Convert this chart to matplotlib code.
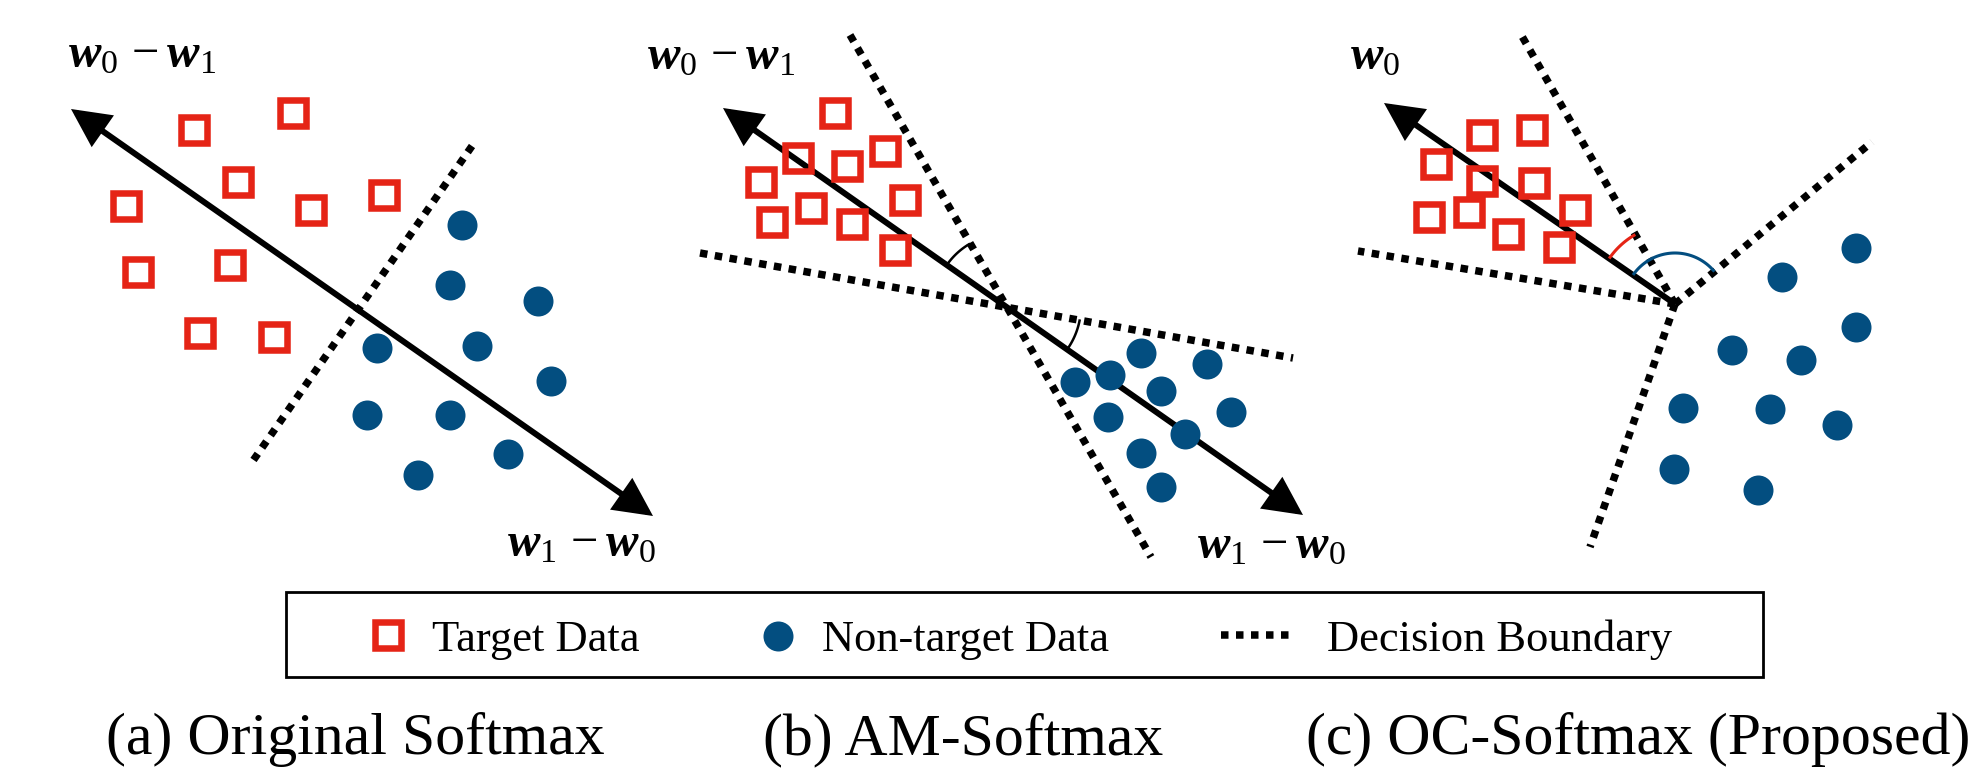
"""
Softmax / AM-Softmax / OC-Softmax 决策边界示意图
"""
import numpy as np
import matplotlib
matplotlib.use("Agg")
import matplotlib.pyplot as plt
from matplotlib.patches import FancyArrowPatch, Rectangle

plt.rcParams["font.family"] = ["Liberation Serif", "DejaVu Serif"]
plt.rcParams["mathtext.fontset"] = "custom"
plt.rcParams["mathtext.rm"] = "Liberation Serif"
plt.rcParams["mathtext.it"] = "Liberation Serif:italic"
plt.rcParams["mathtext.bf"] = "Liberation Serif:italic:bold"

W, H = 1979, 769
RED = "#E52416"
BLUE = "#034E80"

# ---- (a) Original Softmax ----
a_sq_x = [194, 293, 238, 126, 311, 384, 138, 230, 200, 274]
a_sq_y = [130, 113, 182, 206, 210, 195, 272, 265, 333, 337]
a_ci_x = [462, 450, 538, 377, 477, 551, 367, 450, 508, 418]
a_ci_y = [225, 285, 301, 348, 346, 381, 415, 415, 454, 475]
a_arrow = [(71, 109), (653, 516)]
a_bounds = [[(472, 146), (250, 465)]]

# ---- (b) AM-Softmax ----
b_sq_x = [835, 798, 761, 847, 885, 811, 772, 852, 905, 895]
b_sq_y = [113, 158, 182, 166, 151, 208, 222, 224, 200, 250]
b_ci_x = [1141, 1207, 1075, 1110, 1161, 1231, 1108, 1185, 1141, 1161]
b_ci_y = [353, 364, 382, 375, 391, 412, 417, 434, 453, 487]
b_arrow = [(723, 108), (1303, 515)]
b_bounds = [[(850, 35), (1151, 557)], [(700, 253), (1293, 358)]]
b_center = (1006, 306)

# ---- (c) OC-Softmax ----
c_sq_x = [1482, 1532, 1436, 1482, 1534, 1429, 1469, 1508, 1575, 1559]
c_sq_y = [135, 130, 164, 181, 183, 217, 212, 234, 210, 247]
c_ci_x = [1856, 1782, 1856, 1732, 1801, 1683, 1770, 1837, 1674, 1758]
c_ci_y = [248, 277, 327, 350, 360, 408, 409, 425, 469, 490]
c_center = (1675, 304)
c_tip = (1384, 103)
c_ends = [(1519, 31), (1358, 251), (1872, 142), (1590, 547)]

captions = ["(a) Original Softmax", "(b) AM-Softmax", "(c) OC-Softmax (Proposed)"]
legend_labels = ["Target Data", "Non-target Data", "Decision Boundary"]

LBL_UP = r"$\mathbf{w}_0\,-\mathbf{w}_1$"
LBL_DN = r"$\mathbf{w}_1\,-\mathbf{w}_0$"

DOT = dict(color="black", lw=5.4, linestyle=(0, (1, 1)), dash_capstyle="butt")
SQ = dict(marker="s", ms=19, mew=4.7, mec=RED, mfc="none", ls="none", zorder=5)
CI = dict(marker="o", ms=21.6, mew=0, mfc=BLUE, ls="none", zorder=5)


def arrow(ax, p0, p1, style):
    ax.add_patch(FancyArrowPatch(p0, p1, arrowstyle=style, mutation_scale=1,
                                 lw=4.3, color="black", shrinkA=0, shrinkB=0,
                                 joinstyle="miter", capstyle="butt", zorder=3))


def angle_of(c, p):
    return np.arctan2(p[1] - c[1], p[0] - c[0])


def arc(ax, c, p_from, p_to, r, color, lw):
    t0, t1 = angle_of(c, p_from), angle_of(c, p_to)
    t = np.linspace(t0, t1, 60)
    ax.plot(c[0] + r * np.cos(t), c[1] + r * np.sin(t), color=color, lw=lw,
            solid_capstyle="butt", zorder=4)


fig = plt.figure(figsize=(W / 100, H / 100), dpi=100)
ax = fig.add_axes([0, 0, 1, 1])
ax.set_xlim(0, W)
ax.set_ylim(H, 0)
ax.axis("off")

both = "<|-|>,head_length=21,head_width=10.5"
one = "-|>,head_length=21,head_width=10.5"

# (a)
for seg in a_bounds:
    ax.plot([seg[0][0], seg[1][0]], [seg[0][1], seg[1][1]], **DOT)
arrow(ax, a_arrow[0], a_arrow[1], both)
ax.plot(a_sq_x, a_sq_y, **SQ)
ax.plot(a_ci_x, a_ci_y, **CI)
ax.text(68, 67, LBL_UP, fontsize=35, ha="left", va="baseline")
ax.text(507, 556, LBL_DN, fontsize=35, ha="left", va="baseline")

# (b)
for seg in b_bounds:
    ax.plot([seg[0][0], seg[1][0]], [seg[0][1], seg[1][1]], **DOT)
arrow(ax, b_arrow[0], b_arrow[1], both)
arc(ax, b_center, b_arrow[0], b_bounds[0][0], 72, "black", 1.8)
arc(ax, b_center, b_bounds[1][1], b_arrow[1], 75, "black", 1.8)
ax.plot(b_sq_x, b_sq_y, **SQ)
ax.plot(b_ci_x, b_ci_y, **CI)
ax.text(647, 69, LBL_UP, fontsize=35, ha="left", va="baseline")
ax.text(1197, 558, LBL_DN, fontsize=35, ha="left", va="baseline")

# (c)
for end in c_ends:
    ax.plot([c_center[0], end[0]], [c_center[1], end[1]], **DOT)
arrow(ax, c_center, c_tip, one)
arc(ax, c_center, c_tip, c_ends[0], 80, RED, 2.2)
arc(ax, c_center, c_tip, c_ends[2], 51, BLUE, 2.2)
ax.plot(c_sq_x, c_sq_y, **SQ)
ax.plot(c_ci_x, c_ci_y, **CI)
ax.text(1350, 69, r"$\mathbf{w}_0$", fontsize=35, ha="left", va="baseline")

# 图例
ax.add_patch(Rectangle((286, 592), 1477, 85, fill=False, lw=2, ec="black"))
ax.plot([388], [635], **SQ)
ax.plot([778], [636], **CI)
ax.plot([1221, 1290], [635, 635], **DOT)
for x, lbl in zip([432, 822, 1327], legend_labels):
    ax.text(x, 651, lbl, fontsize=32, ha="left", va="baseline")

# 子图标题
for x, cap in zip([355, 963, 1638], captions):
    ax.text(x, 754, cap, fontsize=43, ha="center", va="baseline")

fig.savefig("out.png", dpi=100)
